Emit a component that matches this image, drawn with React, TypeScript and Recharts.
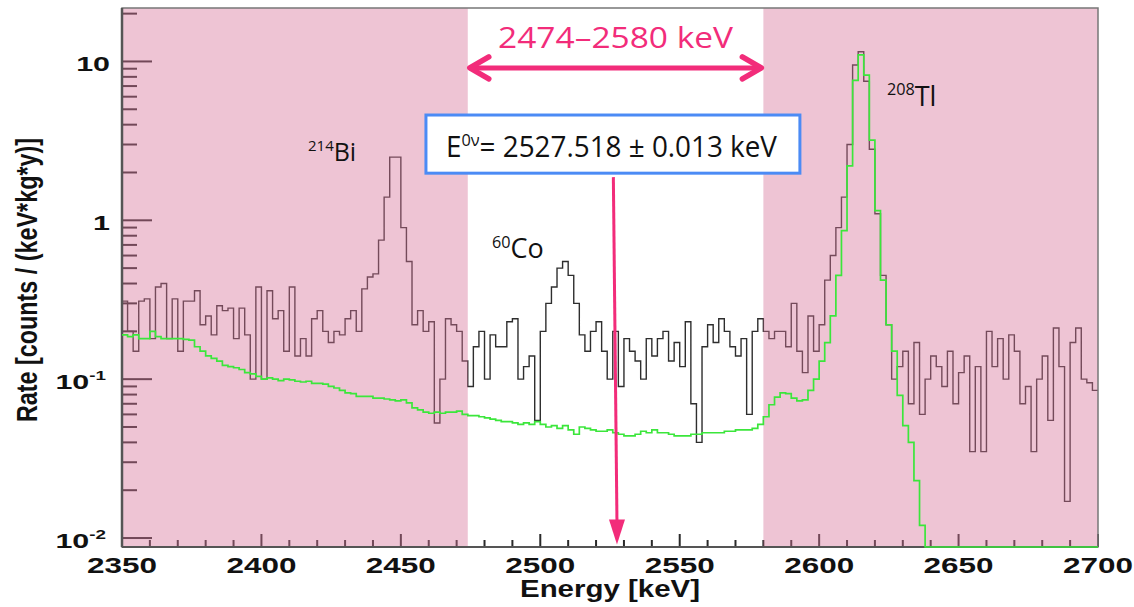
import React from 'react';
import { ComposedChart, Line, Scatter, XAxis, YAxis, ReferenceArea, ReferenceLine, ReferenceDot } from 'recharts';

// histogram binning (keV)
const BIN_START = 2350;
const BIN_WIDTH = 2;
const E_MIN = 2350;
const E_MAX = 2700;
const RATE_MIN = 0.00878;
const RATE_MAX = 21.7;

const ROI = [2474, 2580];
const Q_VALUE_LABEL = '2527.518';

// measured spectrum, counts / (keV kg y), one value per 2 keV bin
const dataRate = [
  0.31, 0.2, 0.15, 0.31, 0.32, 0.18, 0.38, 0.4, 0.18, 0.32,
  0.15, 0.31, 0.31, 0.36, 0.22, 0.25, 0.19, 0.29, 0.27, 0.28,
  0.18, 0.28, 0.19, 0.1, 0.38, 0.1, 0.36, 0.24, 0.27, 0.15,
  0.38, 0.14, 0.18, 0.14, 0.24, 0.27, 0.2, 0.17, 0.2, 0.19,
  0.24, 0.27, 0.2, 0.37, 0.44, 0.46, 0.75, 1.4, 2.5, 2.5,
  0.9, 0.55, 0.22, 0.27, 0.2, 0.23, 0.053, 0.1, 0.24, 0.22,
  0.2, 0.13, 0.09, 0.16, 0.2, 0.1, 0.19, 0.16, 0.16, 0.23,
  0.24, 0.1, 0.12, 0.14, 0.055, 0.2, 0.3, 0.38, 0.5, 0.55,
  0.45, 0.3, 0.19, 0.15, 0.2, 0.23, 0.15, 0.1, 0.2, 0.09,
  0.18, 0.15, 0.13, 0.1, 0.18, 0.14, 0.18, 0.2, 0.13, 0.17,
  0.12, 0.23, 0.07, 0.04, 0.16, 0.22, 0.17, 0.24, 0.2, 0.16,
  0.14, 0.18, 0.06, 0.2, 0.24, 0.2, 0.18, 0.2, 0.2, 0.16,
  0.3, 0.15, 0.11, 0.25, 0.15, 0.22, 0.42, 0.6, 0.9, 1.4,
  3.0, 9.5, 11.5, 7.5, 2.8, 1.1, 0.45, 0.22, 0.1, 0.12,
  0.15, 0.07, 0.17, 0.06, 0.1, 0.14, 0.12, 0.09, 0.15, 0.07,
  0.11, 0.14, 0.035, 0.12, 0.035, 0.2, 0.12, 0.18, 0.1, 0.19,
  0.15, 0.07, 0.09, 0.035, 0.1, 0.14, 0.055, 0.21, 0.12, 0.017,
  0.17, 0.21, 0.1, 0.095, 0.085,
];

// simulated background (green), 0 = empty bin
const mcRate = [
  0.19, 0.185, 0.19, 0.18, 0.18, 0.2, 0.185, 0.18, 0.18, 0.18,
  0.18, 0.178, 0.176, 0.16, 0.15, 0.14, 0.135, 0.13, 0.122, 0.12,
  0.118, 0.115, 0.11, 0.108, 0.104, 0.1, 0.102, 0.1, 0.098, 0.1,
  0.099, 0.097, 0.096, 0.097, 0.094, 0.094, 0.093, 0.09, 0.088, 0.085,
  0.082, 0.081, 0.078, 0.078, 0.078, 0.076, 0.076, 0.075, 0.074, 0.073,
  0.074, 0.071, 0.066, 0.064, 0.062, 0.061, 0.062, 0.061, 0.062, 0.062,
  0.063, 0.06, 0.059, 0.059, 0.058, 0.057, 0.056, 0.055, 0.054, 0.054,
  0.053, 0.052, 0.053, 0.052, 0.054, 0.052, 0.05, 0.051, 0.049, 0.051,
  0.048, 0.045, 0.05, 0.049, 0.048, 0.047, 0.047, 0.048, 0.046, 0.045,
  0.044, 0.044, 0.045, 0.047, 0.046, 0.048, 0.046, 0.046, 0.045, 0.044,
  0.044, 0.044, 0.045, 0.045, 0.046, 0.046, 0.046, 0.046, 0.047, 0.047,
  0.048, 0.048, 0.048, 0.049, 0.052, 0.058, 0.069, 0.077, 0.082, 0.081,
  0.076, 0.073, 0.074, 0.085, 0.1, 0.13, 0.17, 0.25, 0.45, 0.86,
  2.2, 7.6, 11, 8.2, 3.2, 1.15, 0.42, 0.22, 0.15, 0.079,
  0.051, 0.04, 0.023, 0.012, 0, 0, 0, 0, 0, 0,
  0, 0, 0, 0, 0, 0, 0, 0, 0, 0,
  0, 0, 0, 0, 0, 0, 0, 0, 0, 0,
  0, 0, 0, 0, 0,
];

const xLabelTicks = [2350, 2400, 2450, 2500, 2550, 2600, 2650, 2700];
const X_MINOR_STEP = 10;
const yTickLabels = [
  { v: 0.01, base: '10', exp: '-2' },
  { v: 0.1, base: '10', exp: '-1' },
  { v: 1, base: '1', exp: '' },
  { v: 10, base: '10', exp: '' },
];
const yMinorMults = [2, 3, 4, 5, 6, 7, 8, 9];

const isotopes = [
  { mass: '214', symbol: 'Bi', e: 2416.7, rate: 2.36, size: 25 },
  { mass: '60', symbol: 'Co', e: 2482.7, rate: 0.575, size: 27 },
  { mass: '208', symbol: 'Tl', e: 2624.3, rate: 5.25, size: 27 },
];

const MAGENTA = '#F22C7A';
const PINK = 'rgb(214,114,152)';
const TICK_COLOR = '#2a2a2a';
const FONT = '"Open Sans", "Noto Sans", sans-serif';
const AXIS_FONT = '"Liberation Sans", Arial, sans-serif';

const rows = dataRate.map((d, i) => ({
  e: BIN_START + i * BIN_WIDTH,
  data: d,
  mc: mcRate[i] > 0 ? mcRate[i] : RATE_MIN,
}));
rows.push({ e: E_MAX, data: dataRate[dataRate.length - 1], mc: RATE_MIN });

const xTicks: number[] = [];
for (let e = E_MIN; e <= E_MAX; e += X_MINOR_STEP) xTicks.push(e);

const yTicks: number[] = [];
yTickLabels.forEach((t) => {
  yTicks.push(t.v);
  yMinorMults.forEach((m) => {
    const v = +(t.v * m).toPrecision(3);
    if (v < RATE_MAX) yTicks.push(v);
  });
});
yTicks.sort((a, b) => a - b);

const isMajorY = (v: number) => yTickLabels.some((t) => Math.abs(t.v - v) < t.v * 1e-6);

// tick-mark anchors on the two axes, placed by the chart scales
const xTickMarks = xTicks.map((e) => ({ e, r: RATE_MIN, major: xLabelTicks.includes(e) }));
const yTickMarks = yTicks.map((v) => ({ e: E_MIN, r: v, major: isMajorY(v) }));

function XTickLabel(props: any) {
  const { x, y, payload } = props;
  if (!xLabelTicks.includes(payload.value)) return <g />;
  return (
    <text
      x={x}
      y={y + 26}
      textAnchor="middle"
      fontSize={22}
      fontWeight="bold"
      fontFamily={AXIS_FONT}
      fill="#111"
      textLength={70}
      lengthAdjust="spacingAndGlyphs"
    >
      {payload.value}
    </text>
  );
}

function YTickLabel(props: any) {
  const { y, payload } = props;
  const lab = yTickLabels.find((t) => Math.abs(t.v - payload.value) < t.v * 1e-6);
  if (!lab) return <g />;
  return (
    <text
      transform={`translate(${lab.exp ? 106 : 110},${y + 10}) scale(1.45,1)`}
      textAnchor="end"
      fontSize={21}
      fontWeight="bold"
      fontFamily={AXIS_FONT}
      fill="#111"
    >
      {lab.base}
      {lab.exp && (
        <tspan fontSize={13} dy={-9}>
          {lab.exp}
        </tspan>
      )}
    </text>
  );
}

function YTitle() {
  return (
    <text
      transform="translate(27,280) scale(1.25,1) rotate(-90)"
      textAnchor="middle"
      dy="0.35em"
      fontSize={23}
      fontWeight="bold"
      fontFamily={AXIS_FONT}
      fill="#111"
      textLength={284}
      lengthAdjust="spacingAndGlyphs"
    >
      Rate [counts / (keV*kg*y)]
    </text>
  );
}

function XTitle() {
  return (
    <text
      x={610}
      y={597}
      textAnchor="middle"
      fontSize={24}
      fontWeight="bold"
      fontFamily={AXIS_FONT}
      fill="#111"
      textLength={180}
      lengthAdjust="spacingAndGlyphs"
    >
      Energy [keV]
    </text>
  );
}

function RangeArrow(props: any) {
  const { x1, y1, x2 } = props;
  const mid = (x1 + x2) / 2;
  return (
    <g>
      <line x1={x1 + 3} x2={x2 - 3} y1={y1} y2={y1} stroke={MAGENTA} strokeWidth={5} />
      <polyline
        points={`${x1 + 21},${y1 - 11} ${x1 + 2},${y1} ${x1 + 21},${y1 + 11}`}
        fill="none"
        stroke={MAGENTA}
        strokeWidth={5.5}
        strokeLinecap="round"
        strokeLinejoin="round"
      />
      <polyline
        points={`${x2 - 21},${y1 - 11} ${x2 - 2},${y1} ${x2 - 21},${y1 + 11}`}
        fill="none"
        stroke={MAGENTA}
        strokeWidth={5.5}
        strokeLinecap="round"
        strokeLinejoin="round"
      />
      <text
        x={mid}
        y={y1 - 20}
        textAnchor="middle"
        fontSize={30}
        fontFamily={FONT}
        fill={MAGENTA}
        textLength={235}
        lengthAdjust="spacingAndGlyphs"
      >
        {ROI[0]}–{ROI[1]} keV
      </text>
    </g>
  );
}

function QArrow(props: any) {
  const { x1, y1, x2, y2 } = props;
  return (
    <g>
      <line x1={x1} y1={y1} x2={x2} y2={y2 - 22} stroke={MAGENTA} strokeWidth={3} />
      <polygon points={`${x2 - 8},${y2 - 25} ${x2 + 8},${y2 - 25} ${x2},${y2}`} fill={MAGENTA} />
    </g>
  );
}

function QBox(props: any) {
  const { x, y, width, height } = props;
  return (
    <g>
      <rect x={x} y={y} width={width} height={height} fill="#fff" stroke="#4B8BF5" strokeWidth={3} />
      <text
        x={x + 20}
        y={y + 42}
        fontSize={29}
        fontFamily={FONT}
        fill="#111"
        textLength={331}
        lengthAdjust="spacingAndGlyphs"
      >
        E
        <tspan fontSize={17} dy={-11}>
          0ν
        </tspan>
        <tspan dy={11}>= {Q_VALUE_LABEL} ± 0.013 keV</tspan>
      </text>
    </g>
  );
}

function IsotopeLabel(props: any) {
  const { cx, cy, mass, symbol, size } = props;
  return (
    <text x={cx} y={cy} fontFamily={FONT} fill="#111">
      <tspan fontSize={size * 0.6} dy={-size * 0.4}>
        {mass}
      </tspan>
      <tspan fontSize={size} dy={size * 0.4}>
        {symbol}
      </tspan>
    </text>
  );
}

// ROOT style tick marks pointing into the frame
function XTickMark(props: any) {
  const { cx, cy, payload } = props;
  const len = payload && payload.major ? 13 : 7;
  return <rect x={cx - 1} y={cy - len} width={2} height={len} fill={TICK_COLOR} />;
}

function YTickMark(props: any) {
  const { cx, cy, payload } = props;
  const len = payload && payload.major ? 30 : 15;
  return <rect x={cx} y={cy - 1} width={len} height={2} fill={TICK_COLOR} />;
}

export default function App() {
  return (
    <div style={{ position: 'absolute', left: 0, top: 0, width: 1134, height: 607, background: '#fff' }}>
      <ComposedChart width={1134} height={607} data={rows} margin={{ top: 8, right: 36, bottom: 0, left: 0 }}>
        <XAxis
          type="number"
          dataKey="e"
          domain={[E_MIN, E_MAX]}
          ticks={xTicks}
          interval={0}
          tick={(p: any) => <XTickLabel {...p} />}
          tickLine={false}
          tickSize={0}
          tickMargin={0}
          height={60}
          axisLine={{ stroke: '#555', strokeWidth: 2 }}
          label={<XTitle />}
        />
        <YAxis
          scale="log"
          domain={[RATE_MIN, RATE_MAX]}
          ticks={yTicks}
          interval={0}
          tick={(p: any) => <YTickLabel {...p} />}
          tickLine={false}
          tickSize={0}
          tickMargin={0}
          width={122}
          axisLine={{ stroke: '#555', strokeWidth: 2.5 }}
          label={<YTitle />}
        />
        <Scatter
          data={xTickMarks}
          dataKey="r"
          shape={(p: any) => <XTickMark {...p} />}
          isAnimationActive={false}
          zIndex={0}
        />
        <Scatter
          data={yTickMarks}
          dataKey="r"
          shape={(p: any) => <YTickMark {...p} />}
          isAnimationActive={false}
          zIndex={0}
        />
        <Line
          type="stepAfter"
          dataKey="data"
          stroke="#2e2e2e"
          strokeWidth={1.4}
          dot={false}
          activeDot={false}
          isAnimationActive={false}
          zIndex={400}
        />
        <ReferenceArea
          x1={E_MIN}
          x2={ROI[0]}
          y1={RATE_MIN}
          y2={RATE_MAX}
          fill={PINK}
          fillOpacity={0.42}
          stroke="none"
          zIndex={450}
        />
        <ReferenceArea
          x1={ROI[1]}
          x2={E_MAX}
          y1={RATE_MIN}
          y2={RATE_MAX}
          fill={PINK}
          fillOpacity={0.42}
          stroke="none"
          zIndex={450}
        />
        <ReferenceArea
          x1={E_MIN}
          x2={E_MAX}
          y1={RATE_MIN}
          y2={RATE_MAX}
          fill="none"
          stroke="#777"
          strokeWidth={1.5}
          zIndex={470}
        />
        <Line
          type="stepAfter"
          dataKey="mc"
          stroke="#3BE63B"
          strokeWidth={1.7}
          dot={false}
          activeDot={false}
          isAnimationActive={false}
          zIndex={550}
        />
        <ReferenceLine
          segment={[
            { x: ROI[0], y: 9.1 },
            { x: ROI[1], y: 9.1 },
          ]}
          shape={(p: any) => <RangeArrow {...p} />}
          zIndex={600}
        />
        <ReferenceLine
          segment={[
            { x: 2526.2, y: 1.87 },
            { x: 2527.5, y: 0.0091 },
          ]}
          shape={(p: any) => <QArrow {...p} />}
          zIndex={600}
        />
        <ReferenceArea
          x1={2459.0}
          x2={2593.1}
          y1={1.98}
          y2={4.6}
          shape={(p: any) => <QBox {...p} />}
          zIndex={610}
        />
        {isotopes.map((iso) => (
          <ReferenceDot
            key={iso.symbol}
            x={iso.e}
            y={iso.rate}
            shape={(p: any) => <IsotopeLabel {...p} mass={iso.mass} symbol={iso.symbol} size={iso.size} />}
            zIndex={620}
          />
        ))}
      </ComposedChart>
    </div>
  );
}
